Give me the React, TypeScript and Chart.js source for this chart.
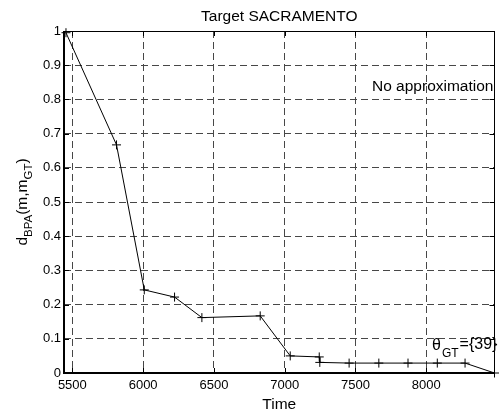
import React, { useEffect, useRef } from "react";
import { Chart, registerables } from "chart.js";

Chart.register(...registerables);

const timeValues = [5455, 5812, 6008, 6222, 6415, 6827, 7039, 7244, 7248, 7455, 7665, 7871, 8078, 8274, 8482];
const distValues = [0.995, 0.667, 0.243, 0.222, 0.162, 0.167, 0.05, 0.047, 0.031, 0.029, 0.029, 0.029, 0.029, 0.029, 0.0];
const xTicks = [5500, 6000, 6500, 7000, 7500, 8000];
const yTicks = [0, 0.1, 0.2, 0.3, 0.4, 0.5, 0.6, 0.7, 0.8, 0.9, 1];
const xMin = 5441;
const xMax = 8482;
const titleText = "Target SACRAMENTO";
const xLabel = "Time";
const noteText = "No approximation";

const FONT = "'Liberation Sans', Arial, sans-serif";
const GRID = "#474747";

const decorPlugin = {
  id: "decor",
  afterDatasetsDraw(chart: any) {
    const ctx = chart.ctx;
    const { left, right, top, bottom } = chart.chartArea;
    const xs = chart.scales.x;
    const ys = chart.scales.y;
    ctx.save();
    ctx.strokeStyle = "#000";
    ctx.setLineDash([]);
    // box: thicker left/bottom like the reference
    ctx.lineWidth = 1;
    ctx.beginPath();
    ctx.moveTo(left, Math.round(top) + 0.5);
    ctx.lineTo(right, Math.round(top) + 0.5);
    ctx.moveTo(Math.round(right) - 0.5, top);
    ctx.lineTo(Math.round(right) - 0.5, bottom);
    ctx.stroke();
    ctx.lineWidth = 2;
    ctx.beginPath();
    ctx.moveTo(Math.round(left), top);
    ctx.lineTo(Math.round(left), Math.round(bottom) + 1);
    ctx.moveTo(left, Math.round(bottom));
    ctx.lineTo(right, Math.round(bottom));
    ctx.stroke();
    // tick marks inside
    ctx.lineWidth = 1;
    const tl = 5;
    ctx.beginPath();
    xTicks.forEach((v) => {
      const px = Math.round(xs.getPixelForValue(v)) + 0.5;
      ctx.moveTo(px, bottom);
      ctx.lineTo(px, bottom - tl);
      ctx.moveTo(px, top);
      ctx.lineTo(px, top + tl);
    });
    yTicks.forEach((v) => {
      const py = Math.round(ys.getPixelForValue(v)) + 0.5;
      ctx.moveTo(left, py);
      ctx.lineTo(left + tl, py);
      ctx.moveTo(right, py);
      ctx.lineTo(right - tl, py);
    });
    ctx.stroke();

    ctx.fillStyle = "#000";
    ctx.textBaseline = "alphabetic";
    ctx.font = `15.5px ${FONT}`;
    ctx.textAlign = "center";
    const cx = (left + right) / 2;
    ctx.fillText(titleText, cx, 21);
    ctx.fillText(xLabel, cx, 409);
    ctx.textAlign = "left";
    ctx.fillText(noteText, 372, 91);
    // theta annotation
    let x = 432;
    ctx.font = `16px ${FONT}`;
    ctx.fillText("\u03B8", x, 350);
    x += ctx.measureText("\u03B8").width + 1;
    ctx.font = `12px ${FONT}`;
    ctx.fillText("GT", x, 357);
    x += ctx.measureText("GT").width + 1;
    ctx.font = `16px ${FONT}`;
    ctx.fillText("={39}", x, 349);

    // y label with subscripts
    const parts: [string, boolean][] = [["d", false], ["BPA", true], ["(m,m", false], ["GT", true], [")", false]];
    const big = `15.5px ${FONT}`;
    const small = `11.5px ${FONT}`;
    let total = 0;
    parts.forEach(([t, s]) => {
      ctx.font = s ? small : big;
      total += ctx.measureText(t).width;
    });
    ctx.translate(27, (top + bottom) / 2);
    ctx.rotate(-Math.PI / 2);
    let px = -total / 2;
    parts.forEach(([t, s]) => {
      ctx.font = s ? small : big;
      ctx.fillText(t, px, s ? 5 : 0);
      px += ctx.measureText(t).width;
    });
    ctx.restore();
  },
};

export default function App() {
  const ref = useRef<HTMLCanvasElement | null>(null);
  useEffect(() => {
    if (!ref.current) return;
    const chart = new Chart(ref.current, {
      type: "line",
      data: {
        datasets: [
          {
            data: timeValues.map((t, i) => ({ x: t, y: distValues[i] })),
            borderColor: "#000",
            borderWidth: 1,
            pointStyle: "cross",
            pointRadius: 4.5,
            pointBorderColor: "#000",
            pointBorderWidth: 1,
            pointBackgroundColor: "#000",
            fill: false,
            tension: 0,
            clip: false as any,
          },
        ],
      },
      options: {
        animation: false,
        responsive: false,
        devicePixelRatio: 1,
        layout: { padding: { left: 0, top: 31, right: 1, bottom: 0 } },
        plugins: {
          legend: { display: false },
          title: { display: false },
          tooltip: { enabled: false },
        },
        scales: {
          x: {
            type: "linear",
            min: xMin,
            max: xMax,
            afterBuildTicks: (s: any) => {
              s.ticks = xTicks.map((v) => ({ value: v }));
            },
            afterFit: (s: any) => {
              s.height = 42;
            },
            grid: {
              color: GRID,
              lineWidth: 1,
              drawTicks: false,
            },
            border: { display: false, dash: [7, 4] },
            ticks: {
              color: "#000",
              font: { family: FONT, size: 13 },
              padding: 5,
              maxRotation: 0,
              autoSkip: false,
              callback: (v: any) => String(v),
            },
          },
          y: {
            type: "linear",
            min: 0,
            max: 1,
            afterBuildTicks: (s: any) => {
              s.ticks = yTicks.map((v) => ({ value: v }));
            },
            afterFit: (s: any) => {
              s.width = 64;
            },
            grid: {
              color: (c: any) => (c.tick && (c.tick.value === 0 || c.tick.value === 1) ? "rgba(0,0,0,0)" : GRID),
              lineWidth: 1,
              drawTicks: false,
            },
            border: { display: false, dash: [7, 4] },
            ticks: {
              color: "#000",
              font: { family: FONT, size: 13 },
              padding: 3,
              autoSkip: false,
              callback: (v: any) => String(Math.round(v * 10) / 10),
            },
          },
        },
      },
      plugins: [decorPlugin],
    });
    return () => chart.destroy();
  }, []);
  return (
    <div style={{ position: "absolute", left: 0, top: 0, width: 500, height: 415, background: "#fff" }}>
      <canvas ref={ref} width={500} height={415} style={{ display: "block", width: 500, height: 415 }} />
    </div>
  );
}
